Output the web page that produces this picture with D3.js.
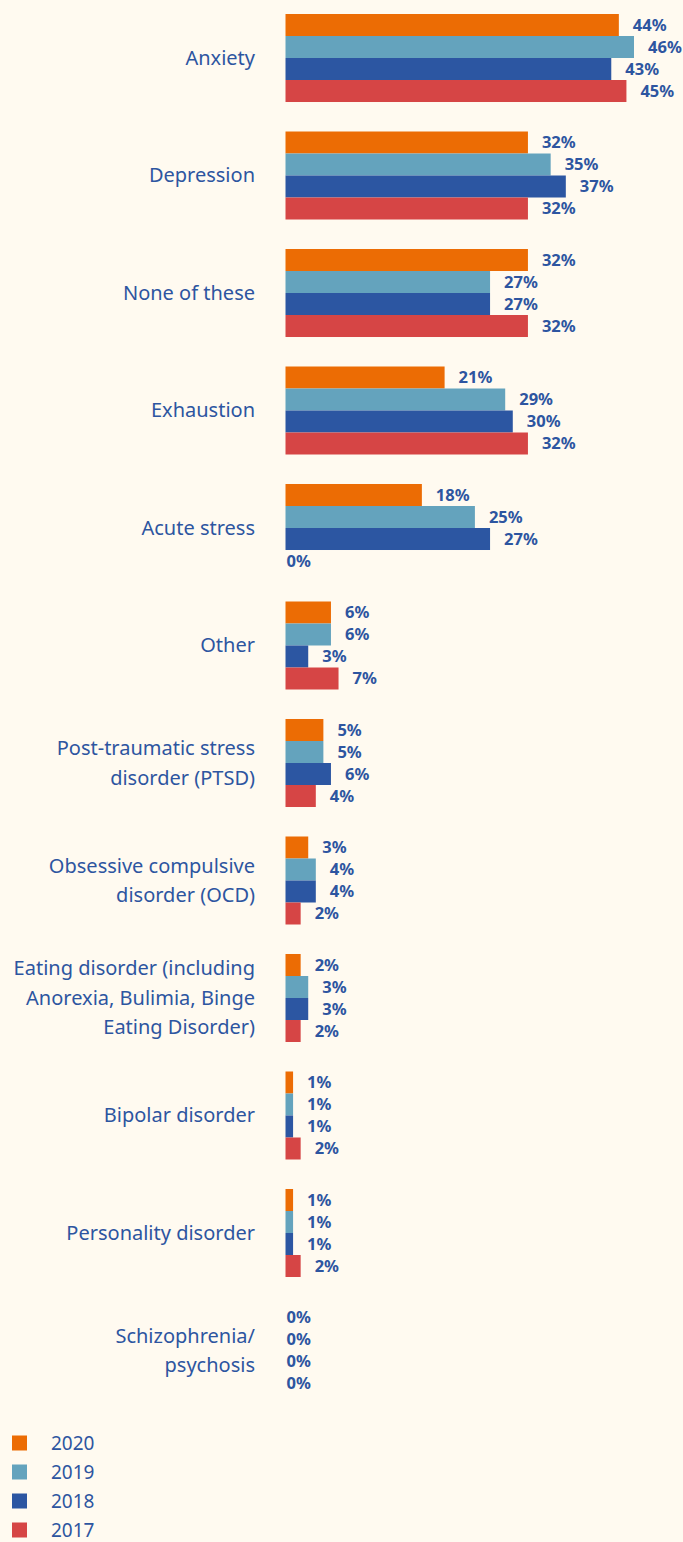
<!DOCTYPE html>
<html>
<head>
<meta charset="utf-8">
<script src="https://cdn.jsdelivr.net/npm/d3@7"></script>
<style>
  html, body { margin: 0; padding: 0; background: #fffaf0; }
  svg { display: block; font-family: "Noto Sans", "Open Sans", sans-serif; }
</style>
</head>
<body>
<svg width="683" height="1542"></svg>
<script>
// Categories (label lines) and series
var categories = [
  ["Anxiety"],
  ["Depression"],
  ["None of these"],
  ["Exhaustion"],
  ["Acute stress"],
  ["Other"],
  ["Post-traumatic stress", "disorder (PTSD)"],
  ["Obsessive compulsive", "disorder (OCD)"],
  ["Eating disorder (including", "Anorexia, Bulimia, Binge", "Eating Disorder)"],
  ["Bipolar disorder"],
  ["Personality disorder"],
  ["Schizophrenia/", "psychosis"]
];
var years = ["2020", "2019", "2018", "2017"];
var colors = ["#ec6c04", "#64a3bd", "#2c56a2", "#d64545"];

var v2020 = [44, 32, 32, 21, 18, 6, 5, 3, 2, 1, 1, 0];
var v2019 = [46, 35, 27, 29, 25, 6, 5, 4, 3, 1, 1, 0];
var v2018 = [43, 37, 27, 30, 27, 3, 6, 4, 3, 1, 1, 0];
var v2017 = [45, 32, 32, 32, 0, 7, 4, 2, 2, 2, 2, 0];
var series = [v2020, v2019, v2018, v2017];

var textColor = "#2d55a0";

var svg = d3.select("svg");

var keys = categories.map(function (c) { return c.join(" "); });

// Scales
var x = d3.scaleLinear()
    .domain([0, 46])
    .range([285.5, 634]);

var y = d3.scaleBand()
    .domain(keys)
    .range([14, 1394.5])
    .paddingInner(0.251)
    .paddingOuter(0);

var yInner = d3.scaleBand()
    .domain(years)
    .range([0, y.bandwidth()]);

// Groups
var groups = svg.append("g")
  .selectAll("g")
  .data(categories)
  .enter()
  .append("g")
    .attr("transform", function (d, i) { return "translate(0," + y(keys[i]) + ")"; });

// Category labels
groups.append("text")
    .attr("text-anchor", "end")
    .attr("fill", textColor)
    .style("font-size", "20px")
    .each(function (d) {
      var n = d.length;
      var lh = 29.5;
      var t = d3.select(this);
      d.forEach(function (line, j) {
        t.append("tspan")
          .attr("x", 255)
          .attr("y", y.bandwidth() / 2 + (j - (n - 1) / 2) * lh)
          .attr("dy", "0.35em")
          .text(line);
      });
    });

// Bars + value labels
groups.each(function (d, i) {
  var g = d3.select(this);
  var rows = years.map(function (yr, k) { return { year: yr, value: series[k][i], color: colors[k] }; });

  g.selectAll("rect")
    .data(rows)
    .enter()
    .append("rect")
      .attr("x", x(0))
      .attr("y", function (r) { return yInner(r.year); })
      .attr("width", function (r) { return x(r.value) - x(0); })
      .attr("height", yInner.bandwidth())
      .attr("fill", function (r) { return r.color; });

  g.selectAll("text.val")
    .data(rows)
    .enter()
    .append("text")
      .attr("class", "val")
      .attr("x", function (r) { return r.value > 0 ? x(r.value) + 14 : x(0) + 1; })
      .attr("y", function (r) { return yInner(r.year) + yInner.bandwidth() / 2; })
      .attr("dy", "0.36em")
      .attr("fill", textColor)
      .style("font-size", "16.5px")
      .style("font-weight", "bold")
      .text(function (r) { return r.value + "%"; });
});

// Legend
var legend = svg.append("g")
  .selectAll("g")
  .data(years)
  .enter()
  .append("g")
    .attr("transform", function (d, i) { return "translate(12," + (1443 + i * 29) + ")"; });

legend.append("rect")
    .attr("x", 0)
    .attr("y", -7.5)
    .attr("width", 15)
    .attr("height", 15)
    .attr("fill", function (d, i) { return colors[i]; });

legend.append("text")
    .attr("x", 39)
    .attr("dy", "0.35em")
    .attr("fill", textColor)
    .style("font-size", "19px")
    .text(function (d) { return d; });
</script>
</body>
</html>
